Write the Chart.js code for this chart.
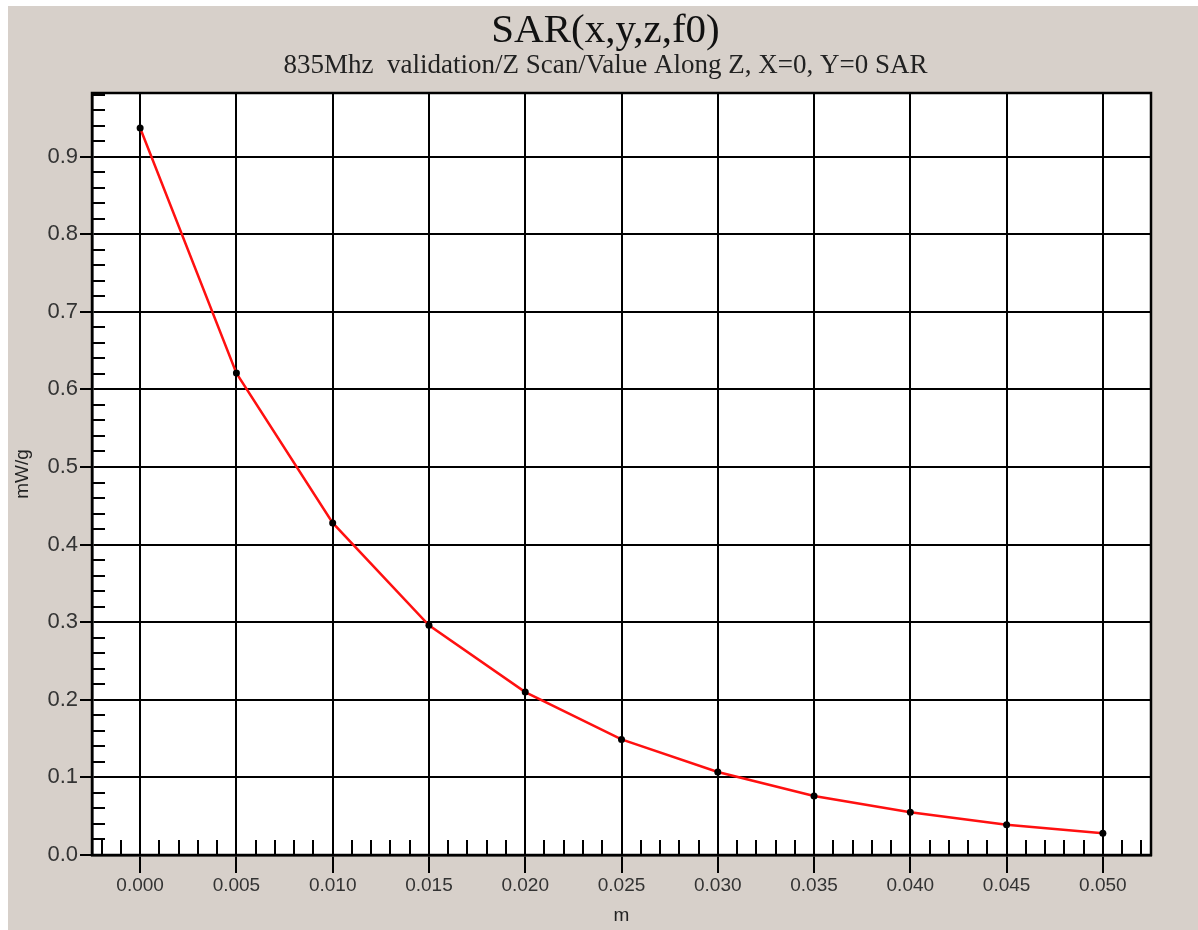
<!DOCTYPE html>
<html>
<head>
<meta charset="utf-8">
<script src="https://cdn.jsdelivr.net/npm/chart.js@4/dist/chart.umd.min.js"></script>
<style>
  html, body { margin: 0; padding: 0; background: #fff; }
  #wrap { width: 1198px; height: 930px; }
</style>
</head>
<body>
<div id="wrap"><canvas id="c"></canvas></div>
<script>
// depth along Z (m) and SAR (mW/g)
var zDepth = [0.000, 0.005, 0.010, 0.015, 0.020, 0.025, 0.030, 0.035, 0.040, 0.045, 0.050];
var sarValues = [0.937, 0.621, 0.428, 0.296, 0.210, 0.149, 0.107, 0.076, 0.055, 0.039, 0.028];
var xTicks = [0.000, 0.005, 0.010, 0.015, 0.020, 0.025, 0.030, 0.035, 0.040, 0.045, 0.050];
var yTicks = [0.0, 0.1, 0.2, 0.3, 0.4, 0.5, 0.6, 0.7, 0.8, 0.9];

var pts = zDepth.map(function(z, i){ return {x: z, y: sarValues[i]}; });

var frame = {
  id: 'frame',
  afterLayout: function(chart){
    // titles sit a little left of the plot centre
    chart.boxes.forEach(function(b){
      if (!b.axis && b.options && b.options.text !== undefined) {
        b.left -= 16; b.right -= 16;
      }
    });
  },
  beforeDraw: function(chart){
    var ctx = chart.ctx;
    ctx.save();
    ctx.fillStyle = '#ffffff';
    ctx.fillRect(0, 0, chart.width, chart.height);
    ctx.fillStyle = '#d7d0ca';
    ctx.fillRect(8, 6, chart.width - 8, chart.height - 6);
    var a = chart.chartArea;
    ctx.fillStyle = '#ffffff';
    ctx.fillRect(a.left, a.top, a.right - a.left, a.bottom - a.top);
    ctx.restore();
  },
  beforeDatasetsDraw: function(chart){
    var ctx = chart.ctx, a = chart.chartArea;
    var xs = chart.scales.x, ys = chart.scales.y;
    ctx.save();
    ctx.strokeStyle = '#000';
    ctx.lineWidth = 2;
    // minor ticks on y (every 0.02)
    for (var i = 1; i * 0.02 < ys.max; i++) {
      if (i % 5 === 0) continue;
      var py = Math.round(ys.getPixelForValue(i * 0.02));
      ctx.beginPath(); ctx.moveTo(a.left, py); ctx.lineTo(a.left + 13, py); ctx.stroke();
    }
    // minor ticks on x (every 0.001)
    for (var j = -2; j * 0.001 < xs.max; j++) {
      if (((j % 5) + 5) % 5 === 0) continue;
      var px = Math.round(xs.getPixelForValue(j * 0.001));
      ctx.beginPath(); ctx.moveTo(px, a.bottom); ctx.lineTo(px, a.bottom - 15); ctx.stroke();
    }
    ctx.lineWidth = 2.5;
    ctx.strokeRect(a.left, a.top, a.right - a.left, a.bottom - a.top);
    ctx.restore();
  }
};

new Chart(document.getElementById('c'), {
  type: 'scatter',
  data: {
    datasets: [{
      data: pts,
      showLine: true,
      borderColor: '#ff1010',
      borderWidth: 2.5,
      pointRadius: 3.5,
      pointBackgroundColor: '#000',
      pointBorderColor: '#000',
      pointBorderWidth: 0
    }]
  },
  options: {
    responsive: true,
    maintainAspectRatio: false,
    animation: false,
    layout: { padding: { left: 0, right: 47, top: 0, bottom: 0 } },
    plugins: {
      legend: { display: false },
      tooltip: { enabled: false },
      title: {
        display: true,
        text: 'SAR(x,y,z,f0)',
        fullSize: false,
        color: '#111',
        font: { family: '"Liberation Serif", "DejaVu Serif", serif', size: 41, weight: 'normal', lineHeight: 1.0 },
        padding: { top: 11, bottom: 0 }
      },
      subtitle: {
        display: true,
        text: '835Mhz  validation/Z Scan/Value Along Z, X=0, Y=0 SAR',
        fullSize: false,
        color: '#222',
        font: { family: '"Liberation Serif", "DejaVu Serif", serif', size: 27, weight: 'normal', lineHeight: 1.0 },
        padding: { top: 0, bottom: 14 }
      }
    },
    scales: {
      x: {
        type: 'linear',
        min: -0.0025,
        max: 0.0525,
        afterBuildTicks: function(s){ s.ticks = xTicks.map(function(v){ return {value: v}; }); },
        afterFit: function(s){ s.height = 75; },
        grid: { color: '#000', lineWidth: 2, tickLength: 18, tickColor: '#000', tickWidth: 2 },
        border: { display: true, color: '#000', width: 2.5 },
        ticks: {
          color: '#333',
          padding: 1,
          maxRotation: 0,
          font: { family: '"Liberation Sans", Arial, sans-serif', size: 19 },
          callback: function(v){ return v.toFixed(3); }
        },
        title: {
          display: true,
          text: 'm',
          color: '#222',
          font: { family: '"Liberation Sans", Arial, sans-serif', size: 19 },
          padding: { top: 0, bottom: 3 }
        }
      },
      y: {
        min: 0,
        max: 0.982,
        afterBuildTicks: function(s){ s.ticks = yTicks.map(function(v){ return {value: v}; }); },
        afterFit: function(s){ s.width = 92; },
        grid: { color: '#000', lineWidth: 2, tickLength: 12, tickColor: '#000', tickWidth: 2 },
        border: { display: true, color: '#000', width: 2.5 },
        ticks: {
          color: '#333',
          padding: 2,
          font: { family: '"Liberation Sans", Arial, sans-serif', size: 22 },
          callback: function(v){ return v.toFixed(1); }
        },
        title: {
          display: true,
          text: 'mW/g',
          color: '#222',
          font: { family: '"Liberation Sans", Arial, sans-serif', size: 19 },
          padding: { top: 11, bottom: 0 }
        }
      }
    }
  },
  plugins: [frame]
});
</script>
</body>
</html>
